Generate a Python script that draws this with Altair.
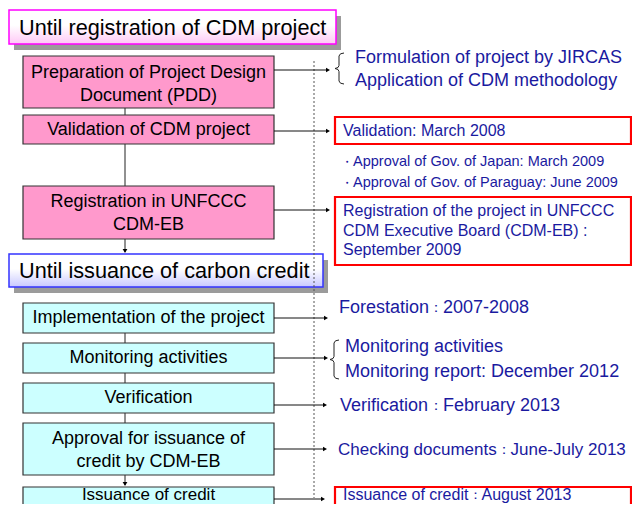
import altair as alt
import pandas as pd

# ---------------- data (text content) ----------------
phase_titles = ["Until registration of CDM project", "Until issuance of carbon credit"]
phase1_steps = [
    "Preparation of Project Design\nDocument (PDD)",
    "Validation of CDM project",
    "Registration in UNFCCC\nCDM-EB",
]
phase2_steps = [
    "Implementation of the project",
    "Monitoring activities",
    "Verification",
    "Approval for issuance of\ncredit by CDM-EB",
    "Issuance of credit",
]
boxed_notes = [
    "Validation: March 2008",
    "Registration of the project  in UNFCCC\nCDM Executive Board (CDM-EB) :\nSeptember 2009",
    "Issuance of credit：August 2013",
]
plain_notes = [
    "Formulation of project by JIRCAS",
    "Application of CDM methodology",
    "Forestation：2007-2008",
    "Monitoring activities",
    "Monitoring report: December 2012",
    "Verification：February 2013",
    "Checking documents：June-July 2013",
]
approval_notes = [
    "・Approval of Gov. of Japan: March 2009",
    "・Approval of Gov. of Paraguay: June 2009",
]

# ---------------- layout (diagram geometry) ----------------
FONT = "Liberation Sans"
NOTE_COLOR = "#1a1aa0"
title_x0 = [9, 9]
title_x1 = [336, 323]
title_y0 = [10, 254]
title_y1 = [44, 287]
title_text_y = [28, 271]
title_stroke = ["#ff00ff", "#3333ff"]
title_grad = ["#ffc8f6", "#c8c8ff"]

box_x0, box_x1 = 23, 274
p1_y0 = [56, 115, 186]
p1_y1 = [108, 144, 239]
p2_y0 = [303, 343, 383, 423, 487]
p2_y1 = [333, 373, 413, 475, 530]
step_text_y = [84, 129.5, 213, 318, 358, 398, 450, 495]
step_size = [18, 18, 18, 18, 18, 18, 18, 17]

arrow_y = [70, 131, 210, 318, 358, 405, 449, 499]
arrow_tip = [331, 331, 331, 329, 329, 328, 328, 326]

plain_x = [355, 355, 339, 345, 345, 340, 338]
plain_y = [58, 81, 308, 347, 372, 406, 450]
plain_size = [18, 18, 18, 18, 18, 18, 17]
# for notes with a full-width colon: colon centre, colon size and start of the part after it
plain_colon_x = [None, None, 436, None, None, 436, 503.5]
plain_colon_s = [None, None, 14, None, None, 14, 13.5]
plain_post_x = [None, None, 443, None, None, 443, 510.5]

red_x0, red_x1 = 335, 631
red_y0 = [117, 197, 487]
red_y1 = [144, 265, 530]
red_text_y = [131, 230.5, 495]
red_colon_x = [None, None, 475]
red_colon_s = [None, None, 12.5]
red_post_x = [None, None, 481.5]

appr_y = [162, 183]

xs = alt.Scale(domain=[8, 632], nice=False, zero=False)
ys = alt.Scale(domain=[8, 504], nice=False, zero=False, reverse=True)


def X(f="x"):
    return alt.X(f"{f}:Q", scale=xs, axis=None)


def Y(f="y"):
    return alt.Y(f"{f}:Q", scale=ys, axis=None)


def first_line_y(text, yc, lh):
    n = text.count("\n") + 1
    return yc - (n - 1) * lh / 2


layers = []

# title shadows and boxes
for i, t in enumerate(phase_titles):
    sh = pd.DataFrame({"x0": [title_x0[i] + 5], "x1": [title_x1[i] + 5],
                       "y0": [title_y0[i] + 6], "y1": [title_y1[i] + 6]})
    layers.append(alt.Chart(sh).mark_rect(fill="#8a8a8a", opacity=0.85).encode(
        x=X("x0"), x2="x1", y=Y("y0"), y2="y1"))
    tb = pd.DataFrame({"x0": [title_x0[i]], "x1": [title_x1[i]],
                       "y0": [title_y0[i]], "y1": [title_y1[i]]})
    grad = alt.LinearGradient(
        gradient="linear",
        stops=[alt.GradientStop(color="#ffffff", offset=0),
               alt.GradientStop(color="#ffffff", offset=0.45),
               alt.GradientStop(color=title_grad[i], offset=1)],
        x1=0, x2=0, y1=0, y2=1)
    layers.append(alt.Chart(tb).mark_rect(fill=grad, stroke=title_stroke[i], strokeWidth=1.5).encode(
        x=X("x0"), x2="x1", y=Y("y0"), y2="y1"))
    tt = pd.DataFrame({"x": [19], "y": [title_text_y[i]], "t": [t]})
    layers.append(alt.Chart(tt).mark_text(font=FONT, fontSize=21.7, align="left", baseline="middle",
                                          color="#000000").encode(x=X(), y=Y(), text="t:N"))

# vertical connectors between boxes
conn_all = pd.DataFrame({
    "x": [125] * 7,
    "y0": [p1_y1[0], p1_y1[1], p1_y1[2], p2_y1[0], p2_y1[1], p2_y1[2], p2_y1[3]],
    "y1": [p1_y0[1], p1_y0[2], title_y0[1] - 2, p2_y0[1], p2_y0[2], p2_y0[3], p2_y0[4] - 2],
})
layers.append(alt.Chart(conn_all).mark_rule(color="#222222", strokeWidth=1).encode(
    x=X(), y=Y("y0"), y2="y1"))
heads_down = pd.DataFrame({"x": [125, 125], "y": [title_y0[1] - 3, p2_y0[4] - 3]})
layers.append(alt.Chart(heads_down).mark_point(shape="triangle-down", filled=True, size=22,
                                               color="#000000", opacity=1).encode(x=X(), y=Y()))

# dotted vertical line
dot = pd.DataFrame({"x": [314], "y0": [61], "y1": [498]})
layers.append(alt.Chart(dot).mark_rule(color="#555555", strokeWidth=1, strokeDash=[2, 2]).encode(
    x=X(), y=Y("y0"), y2="y1"))

# step boxes
all_steps = phase1_steps + phase2_steps
steps = pd.DataFrame({
    "t": all_steps,
    "y0": p1_y0 + p2_y0,
    "y1": p1_y1 + p2_y1,
    "fill": ["#ff99cc"] * 3 + ["#ccffff"] * 5,
    "yt": [first_line_y(s, y, 23) for s, y in zip(all_steps, step_text_y)],
    "s": step_size,
})
steps["x0"] = box_x0
steps["x1"] = box_x1
steps["xc"] = (box_x0 + box_x1) / 2
layers.append(alt.Chart(steps).mark_rect(stroke="#333333", strokeWidth=1.2).encode(
    x=X("x0"), x2="x1", y=Y("y0"), y2="y1", fill=alt.Fill("fill:N", scale=None)))
layers.append(alt.Chart(steps).mark_text(font=FONT, lineBreak="\n", lineHeight=23,
                                         align="center", baseline="middle", color="#000000").encode(
    x=X("xc"), y=Y("yt"), text="t:N", size=alt.Size("s:Q", scale=None)))

# horizontal arrows
arr = pd.DataFrame({"y": arrow_y, "tip": arrow_tip})
arr["x0"] = box_x1
arr["x1"] = arr["tip"] - 3
arr["hx"] = arr["tip"] - 3
layers.append(alt.Chart(arr).mark_rule(color="#111111", strokeWidth=1).encode(
    x=X("x0"), x2="x1", y=Y()))
layers.append(alt.Chart(arr).mark_point(shape="triangle-right", filled=True, size=22,
                                        color="#000000", opacity=1).encode(x=X("hx"), y=Y()))


# braces
def brace(bid, t, v, e, a, b):
    m = (a + b) / 2
    pts = [(e, a), (v + 1.5, a + 0.8), (v, a + 3), (v, m - 3), (v - 1, m - 1), (t, m),
           (v - 1, m + 1), (v, m + 3), (v, b - 3), (v + 1.5, b - 0.8), (e, b)]
    return pd.DataFrame({"id": bid, "o": range(len(pts)),
                         "x": [p[0] for p in pts], "y": [p[1] for p in pts]})


br = pd.concat([brace("a", 335, 339, 344, 53, 84), brace("b", 330, 334, 339, 340, 379)])
layers.append(alt.Chart(br).mark_line(color="#222222", strokeWidth=1).encode(
    x=X(), y=Y(), detail="id:N", order="o:Q"))


# split "label：value" notes into three real-text pieces so the full-width colon sits tight
def note_rows(texts, xs_, ys_, sizes, colon_xs, colon_ss, post_xs):
    rows = []
    for t, x, y, s, cx, cs, px in zip(texts, xs_, ys_, sizes, colon_xs, colon_ss, post_xs):
        if cx is not None and "：" in t:
            pre, post = t.split("：", 1)
            rows.append({"t": pre, "x": x, "y": y, "s": s, "a": "left"})
            rows.append({"t": "：", "x": cx, "y": y, "s": cs, "a": "center"})
            rows.append({"t": post, "x": px, "y": y, "s": s, "a": "left"})
        else:
            rows.append({"t": t, "x": x, "y": y, "s": s, "a": "left"})
    return pd.DataFrame(rows)


def note_layers(df, lh=None):
    out = []
    for a in ["left", "center"]:
        sub = df[df["a"] == a]
        if len(sub) == 0:
            continue
        kw = dict(font=FONT, align=a, baseline="middle", color=NOTE_COLOR, lineBreak="\n")
        if lh:
            kw["lineHeight"] = lh
        out.append(alt.Chart(sub).mark_text(**kw).encode(
            x=X(), y=Y(), text="t:N", size=alt.Size("s:Q", scale=None)))
    return out


# red boxes
red = pd.DataFrame({"y0": red_y0, "y1": red_y1})
red["x0"] = red_x0
red["x1"] = red_x1
layers.append(alt.Chart(red).mark_rect(fill="#ffffff", stroke="#ff0000", strokeWidth=2.2).encode(
    x=X("x0"), x2="x1", y=Y("y0"), y2="y1"))
red_first_y = [first_line_y(t, y, 19.5) for t, y in zip(boxed_notes, red_text_y)]
red_notes = note_rows(boxed_notes, [343] * 3, red_first_y, [16] * 3, red_colon_x, red_colon_s, red_post_x)
layers += note_layers(red_notes, lh=19.5)

# plain notes
pn = note_rows(plain_notes, plain_x, plain_y, plain_size, plain_colon_x, plain_colon_s, plain_post_x)
layers += note_layers(pn)

# approval notes (bullet + text)
ap_rows = []
for t, y in zip(approval_notes, appr_y):
    bullet, rest = t[0], t[1:]
    ap_rows.append({"t": bullet, "x": 346.5, "y": y, "s": 12, "a": "center"})
    ap_rows.append({"t": rest, "x": 353, "y": y, "s": 14.5, "a": "left"})
layers += note_layers(pd.DataFrame(ap_rows))

chart = alt.layer(*layers).properties(
    width=624, height=496, padding=0, autosize=alt.AutoSizeParams(type="none"),
    background="#ffffff",
).configure_view(stroke=None)

chart.save("out.html", embed_options={"renderer": "svg", "actions": False})
